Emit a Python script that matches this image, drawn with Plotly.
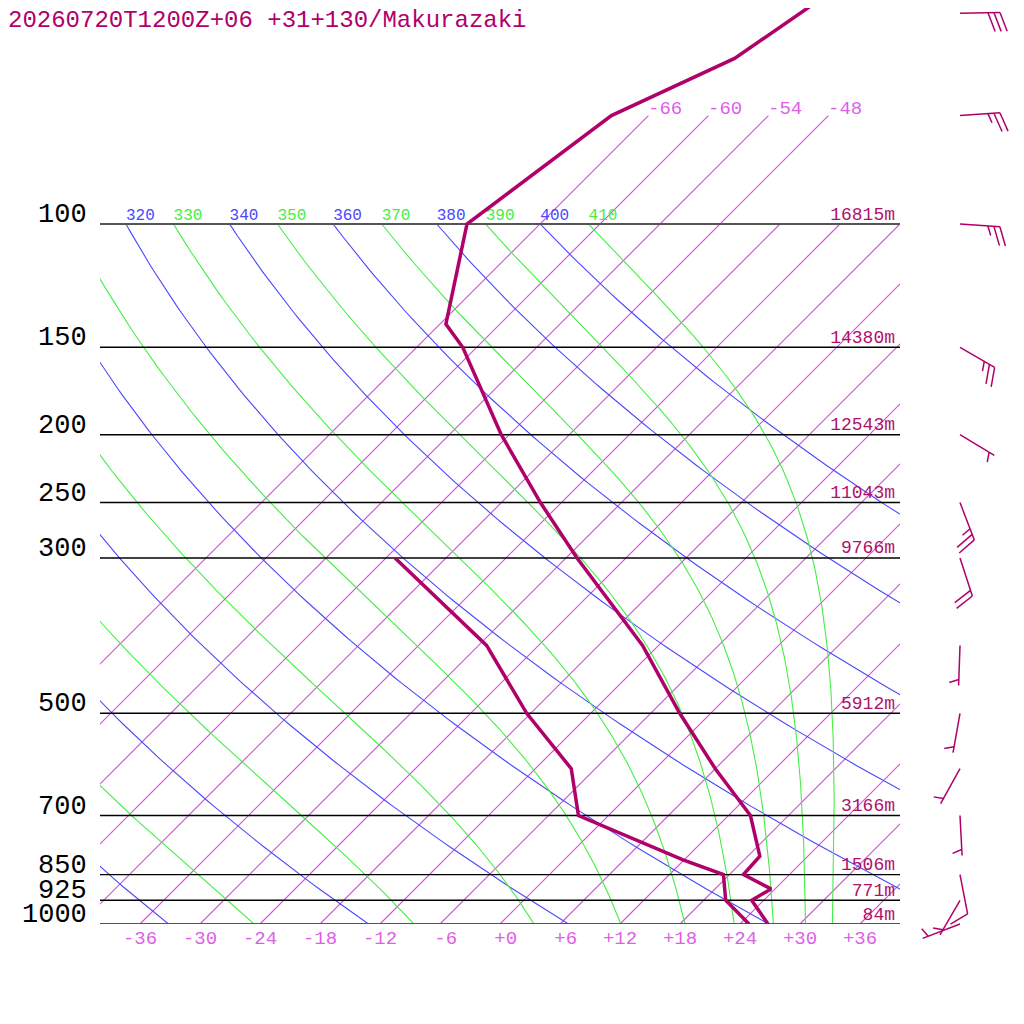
import numpy as np
import plotly.graph_objects as go

title = "20260720T1200Z+06 +31+130/Makurazaki"

# temperature profile (hPa, degC)
temp_p = [1000, 925, 891, 850, 800, 700, 600, 500, 400, 300, 250, 200, 150, 139, 100, 70, 58, 50, 40]
temp_t = [26.8, 22.8, 23.6, 19.4, 19.2, 14.2, 6.0, -3.1, -13.6, -28.9, -38.1, -48.8, -61.4, -65.4, -73.3, -69.7, -63.1, -61.0, -58.0]

# dew point profile
dew_p = [1000, 925, 850, 810, 700, 600, 500, 400, 300]
dew_t = [24.9, 20.2, 17.4, 11.9, -3.0, -8.4, -18.4, -29.2, -47.1]

# standard levels and heights (m)
level_p = [100, 150, 200, 250, 300, 500, 700, 850, 925, 1000]
level_z = [16815, 14380, 12543, 11043, 9766, 5912, 3166, 1506, 771, 84]

# winds: direction (deg), speed (kt)
wind_p = [50, 70, 100, 150, 200, 250, 300, 400, 500, 600, 700, 850, 925, 1000]
wind_dir = [89, 86, 94, 120, 121, 159, 162, 182, 190, 209, 177, 169, 210, 249]
wind_spd = [30, 25, 25, 25, 5, 25, 20, 5, 5, 5, 5, 10, 5, 5]

# background lines
iso_t = list(range(-66, 37, 6))
iso_top = [-66, -60, -54, -48]
dry_theta = list(range(240, 401, 20))
moist_thetae = list(range(250, 411, 20))
tick_t = list(range(-36, 37, 6))

K = 30.4      # skew: x units per ln(p)
PX = 304.0    # pixels per ln(p)
OFF = 8       # page margin of the html body
P_TOP = 1000 * np.exp(-(924 - OFF) / PX)
P_LOW = 1000 * np.exp((1024 + OFF - 924) / PX)

PROF = '#b0006a'
BLUE = '#4848ff'
GREEN = '#44ee44'
ISO = '#d64fdc'
ISO_TXT = '#dd5fe6'
FONT = 'Liberation Mono'


def skew_x(t, p):
    return np.asarray(t, dtype=float) + K * np.log(1000.0 / np.asarray(p, dtype=float))


def esat(tc):
    return 6.112 * np.exp(17.67 * tc / (tc + 243.5))


def rsat(tk, p):
    e = esat(tk - 273.15)
    return 0.622 * e / (p - e)


def moist_dtdp(tk, p):
    rd, cp, lv, eps = 287.04749, 1004.6662, 2.485e6, 0.622
    rs = rsat(tk, p)
    return (rd * tk + lv * rs) / (p * (cp + lv * lv * rs * eps / (rd * tk * tk)))


def thetae_1000(tk):
    r = rsat(tk, 1000.0) * 1000
    return tk * np.exp((3.376 / tk - 0.00254) * r * (1 + 0.81e-3 * r))


def moist_curve(te):
    lo, hi = 200.0, 330.0
    for _ in range(60):
        mid = 0.5 * (lo + hi)
        if thetae_1000(mid) < te:
            lo = mid
        else:
            hi = mid
    tk = 0.5 * (lo + hi)
    ps = np.arange(1000.0, 99.0, -5.0)
    ts = [tk]
    for i in range(len(ps) - 1):
        p, h = ps[i], ps[i + 1] - ps[i]
        k1 = moist_dtdp(tk, p)
        k2 = moist_dtdp(tk + 0.5 * h * k1, p + 0.5 * h)
        k3 = moist_dtdp(tk + 0.5 * h * k2, p + 0.5 * h)
        k4 = moist_dtdp(tk + h * k3, p + h)
        tk = tk + h * (k1 + 2 * k2 + 2 * k3 + k4) / 6
        ts.append(tk)
    return ps, np.array(ts) - 273.15


fig = go.Figure()

# isotherms, one trace
ix, iy = [], []
for t in iso_t:
    top = 70 if t in iso_top else 100
    ix += list(skew_x([t, t], [1000, top])) + [None]
    iy += [1000, top, None]
fig.add_trace(go.Scatter(x=ix, y=iy, mode='lines', line=dict(color=ISO, width=1.15), hoverinfo='skip'))

# dry adiabats
pp = np.geomspace(1000, 100, 120)
dry_top = []
for th in dry_theta:
    tt = th * (pp / 1000) ** 0.2857 - 273.15
    dry_top.append(float(skew_x(tt[-1], 100)))
    fig.add_trace(go.Scatter(x=skew_x(tt, pp), y=pp, mode='lines',
                             line=dict(color=BLUE, width=1.1), hoverinfo='skip'))

# moist adiabats
moist_top = []
for te in moist_thetae:
    ps, ts = moist_curve(te)
    moist_top.append(float(skew_x(ts[-1], ps[-1])))
    fig.add_trace(go.Scatter(x=skew_x(ts, ps), y=ps, mode='lines',
                             line=dict(color=GREEN, width=1.1), hoverinfo='skip'))

# adiabat labels along 100 hPa, only those reaching into the plot
for xs, vals, col in ((dry_top, dry_theta, BLUE), (moist_top, moist_thetae, GREEN)):
    keep = [i for i, x in enumerate(xs) if x > -43.5]
    fig.add_trace(go.Scatter(x=[xs[i] for i in keep], y=[100] * len(keep), mode='text',
                             text=[str(vals[i]) for i in keep], textposition='top right', cliponaxis=True,
                             textfont=dict(family=FONT, size=16, color=col), hoverinfo='skip'))

# level lines
for p in level_p:
    edge = p in (100, 1000)
    fig.add_trace(go.Scatter(x=[-40, 40], y=[p, p], mode='lines',
                             line=dict(color='#555555' if edge else 'black', width=2.2 if edge else 1.4),
                             hoverinfo='skip'))
fig.add_trace(go.Scatter(x=[39.5] * len(level_p), y=level_p, mode='text',
                         text=[f'{z}m' for z in level_z], textposition='top left', cliponaxis=False,
                         textfont=dict(family=FONT, size=18, color='#b0106a'), hoverinfo='skip'))

# profiles
fig.add_trace(go.Scatter(x=skew_x(dew_t, dew_p), y=dew_p, mode='lines',
                         line=dict(color=PROF, width=3.5), hoverinfo='skip'))
fig.add_trace(go.Scatter(x=skew_x(temp_t, temp_p), y=temp_p, mode='lines',
                         line=dict(color=PROF, width=3.5), hoverinfo='skip'))

# wind barbs, drawn in pixel offsets from the level
bx, by = [], []
for p0, d, s in zip(wind_p, wind_dir, wind_spd):
    a = np.radians(d)
    ux, uy = np.sin(a), -np.cos(a)
    r = np.radians(70)
    vx, vy = ux * np.cos(r) - uy * np.sin(r), ux * np.sin(r) + uy * np.cos(r)

    def seg(x0, y0, x1, y1):
        bx.extend([46 + x0 / 10, 46 + x1 / 10, None])
        by.extend([p0 * np.exp(y0 / PX), p0 * np.exp(y1 / PX), None])

    seg(0, 0, 40 * ux, 40 * uy)
    full, half = int(s // 10), int((s % 10) // 5)
    pos = 40 if full else 34
    for _ in range(full):
        seg(pos * ux, pos * uy, pos * ux + 20 * vx, pos * uy + 20 * vy)
        pos -= 6
    for _ in range(half):
        seg(pos * ux, pos * uy, pos * ux + 10 * vx, pos * uy + 10 * vy)
fig.add_trace(go.Scatter(x=bx, y=by, mode='lines', line=dict(color=PROF, width=1.5),
                         xaxis='x2', yaxis='y2', hoverinfo='skip'))

ticktext = [(f'{t:+d}' if t >= 0 else str(t)).rjust(3, '\u00a0') for t in tick_t]

annotations = [dict(text=str(p), x=(89 - OFF) / 1024, xref='paper', y=np.log10(p), yref='y', xanchor='right',
                    yanchor='middle', yshift=9, showarrow=False, font=dict(family=FONT, size=27, color='black'))
               for p in level_p]
annotations += [dict(text=str(t), x=float(skew_x(t, 70)), xref='x', y=np.log10(70), yref='y', xanchor='left',
                     yanchor='middle', yshift=7, xshift=-2, showarrow=False,
                     font=dict(family=FONT, size=19, color=ISO_TXT))
                for t in iso_top]
annotations.append(dict(text=title, x=(6 - OFF) / 1024, xref='paper', y=1 - (20 - OFF) / 1024, yref='paper',
                        xanchor='left', yanchor='middle', showarrow=False,
                        font=dict(family=FONT, size=24, color=PROF)))

fig.update_layout(
    width=1024, height=1024, autosize=False, showlegend=False,
    margin=dict(l=0, r=0, t=0, b=0),
    paper_bgcolor='white', plot_bgcolor='white',
    xaxis=dict(domain=[(100 - OFF) / 1024, (900 - OFF) / 1024], range=[-40, 40], showgrid=False, zeroline=False,
               tickvals=tick_t, ticktext=ticktext, ticks='', anchor='y',
               tickfont=dict(family=FONT, size=19, color=ISO_TXT)),
    yaxis=dict(domain=[(1024 - 924 + OFF) / 1024, 1], type='log', range=[3, np.log10(P_TOP)], showgrid=False,
               zeroline=False, showticklabels=False, ticks=''),
    xaxis2=dict(domain=[(900 - OFF) / 1024, 1], range=[40, (1024 + OFF - 500) / 10], visible=False, anchor='y2'),
    yaxis2=dict(domain=[0, 1], type='log', range=[np.log10(P_LOW), np.log10(P_TOP)], visible=False,
                anchor='x2'),
    annotations=annotations,
)

fig.write_html("out.html")
